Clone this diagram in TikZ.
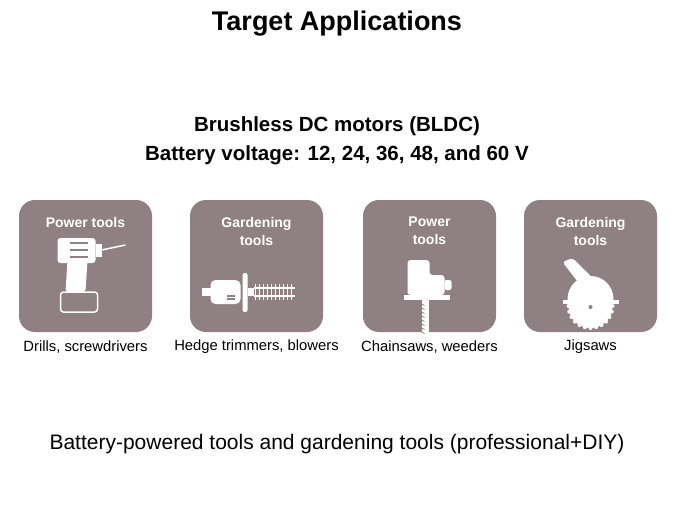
\documentclass[tikz,border=0pt]{standalone}
\usepackage{fontspec}
\setmainfont{Liberation Sans}
\newcommand\fsz[2]{\fontsize{#1pt}{#2pt}\selectfont}
\begin{document}
\begin{tikzpicture}[x=1pt,y=-1pt,
  tile/.style={fill=tilec,draw=none,rounded corners=16pt},
  tlabel/.style={text=white,font={\bfseries\fsz{14}{18}},align=center},
  captxt/.style={font={\fsz{14.8}{17}},anchor=center},
  ic/.style={fill=white,draw=none}]
\definecolor{tilec}{HTML}{8F8083}
\useasboundingbox (0,0) rectangle (675,506);
\node[font={\bfseries\fsz{27}{30}}] (title) at (337,24) {Target Applications};
\node[font={\bfseries\fsz{20.5}{29}},align=center] (sub) at (337,141) {Brushless DC motors (BLDC)\\Battery voltage: 12, 24, 36, 48, and 60 V};
\foreach \x/\n in {19/a,190/b,363/c,524/d}{
  \path[tile] (\x,200) rectangle +(133,132);
  \coordinate (\n) at (\x+66.5,200);
}
\node[tlabel] (la) at ([yshift=-22pt]a) {Power tools};
\node[tlabel] (lb) at ([yshift=-31pt]b) {Gardening\\tools};
\node[tlabel] (lc) at ([yshift=-31pt]c) {Power\\tools};
\node[tlabel] (ld) at ([yshift=-31pt]d) {Gardening\\tools};
% drill
\begin{scope}[shift={(a)}]
  \path[ic,rounded corners=3pt] (-28,38) rectangle (10,63);
  \path[ic] (10,44) rectangle (16,57);
  \draw[white,line width=1.5] (16,50) -- (40,45);
  \path[ic,rounded corners=3pt] (-18,60) -- (2,60) -- (0,92) -- (-20,92) -- cycle;
  \draw[white,line width=1.5,rounded corners=3pt] (-25,92) rectangle (12,112);
  \foreach \yy in {43,50,57}{\draw[tilec,line width=1.2] (-16,\yy) -- (2,\yy);}
\end{scope}
% hedge trimmer
\begin{scope}[shift={(b)}]
  \path[ic] (-55,88) rectangle (-45,96);
  \path[ic,rounded corners=5pt] (-46,80) rectangle (-16,104);
  \path[ic,rounded corners=2pt] (-14,73) rectangle (-9,112);
  \path[ic] (-9,88) rectangle (-3,96);
  \draw[white,line width=1.5] (-3,88) -- (38,88) (-3,96) -- (38,96);
  \foreach \i in {0,...,9}{\draw[white,line width=1] (-1+4*\i,84) -- (-1+4*\i,100);}
  \draw[tilec,line width=1.2] (-30,96) -- (-22,96) (-30,99) -- (-22,99);
\end{scope}
% jigsaw
\begin{scope}[shift={(c)}]
  \path[ic,rounded corners=3pt] (-22,60) -- (0,60) -- (0,75) -- (15,75) -- (15,95) -- (-22,95) -- cycle;
  \path[ic,rounded corners=2pt] (15,80) rectangle (22,90);
  \path[ic] (-26,95) rectangle (20,100);
  \path[ic] (-8,100) rectangle (-1,135);
  \foreach \yy in {104,108,...,132}{\draw[tilec,line width=0.8] (-8,\yy) -- (-5,\yy+1.5);}
\end{scope}
% circular saw
\begin{scope}[shift={(d)}]
  \path[ic,rounded corners=3pt] (-28,62) -- (-18,58) -- (2,78) -- (-8,88) -- cycle;
  \path[ic] (-23,99) arc (180:360:23) -- cycle;
  \path[ic] (-28,100) rectangle (28,104);
  \path[ic] (0,106) circle (22);
  \foreach \a in {0,15,...,345}{\path[ic] (\a:22) ++(0,106) circle (2);}
  \path[fill=tilec] (0,107) circle (2);
\end{scope}
\node[captxt] (ca) at (85.5,347) {Drills, screwdrivers};
\node[captxt] (cb) at (256.5,347) {Hedge trimmers, blowers};
\node[captxt] (cc) at (429.5,347) {Chainsaws, weeders};
\node[captxt] (cd) at (590.5,347) {Jigsaws};
\node[font={\fsz{21}{24}}] (foot) at (337,444) {Battery-powered tools and gardening tools (professional+DIY)};
\end{tikzpicture}
\end{document}
